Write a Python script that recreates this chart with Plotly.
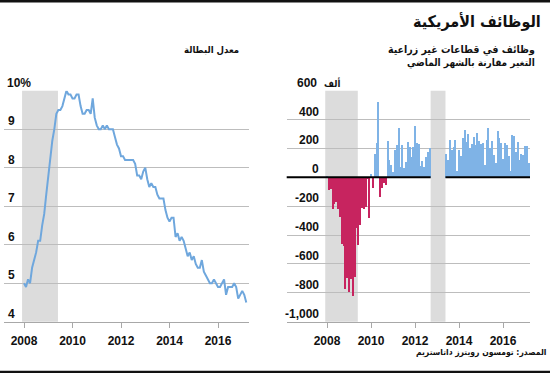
import plotly.graph_objects as go

# ---------------- data ----------------
start_year = 2008
# US unemployment rate, monthly Jan 2008 - Mar 2017 (%)
unemployment = [
    5.0, 4.9, 5.1, 5.0, 5.4, 5.6, 5.8, 6.1, 6.1, 6.5, 6.8, 7.3,
    7.8, 8.3, 8.7, 9.0, 9.4, 9.5, 9.5, 9.6, 9.8, 10.0, 9.9, 9.9,
    9.8, 9.8, 9.9, 9.9, 9.6, 9.4, 9.4, 9.5, 9.5, 9.4, 9.8, 9.3,
    9.1, 9.0, 9.0, 9.1, 9.0, 9.1, 9.0, 9.0, 9.0, 8.8, 8.6, 8.5,
    8.3, 8.3, 8.2, 8.2, 8.2, 8.2, 8.2, 8.1, 7.8, 7.8, 7.7, 7.9,
    8.0, 7.7, 7.5, 7.6, 7.5, 7.5, 7.3, 7.2, 7.2, 7.2, 6.9, 6.7,
    6.6, 6.7, 6.7, 6.2, 6.3, 6.1, 6.2, 6.1, 5.9, 5.7, 5.8, 5.6,
    5.7, 5.5, 5.4, 5.4, 5.6, 5.3, 5.2, 5.1, 5.0, 5.0, 5.1, 5.0,
    4.9, 4.9, 5.0, 5.1, 4.7, 4.9, 4.9, 4.9, 5.0, 4.9, 4.6, 4.7,
    4.8, 4.7, 4.5,
]
# Nonfarm payrolls, monthly change (thousands), Jan 2008 - Mar 2017
payrolls = [
    14, -85, -79, -215, -186, -169, -216, -270, -459, -473, -770, -695,
    -791, -703, -823, -686, -351, -470, -329, -212, -219, -200, -7, -279,
    28, -69, 163, 243, 522, -133, -70, -34, -52, 257, 123, 88,
    42, 188, 225, 346, 77, 225, 69, 110, 248, 209, 141, 209,
    358, 237, 233, 78, 115, 76, 143, 177, 203, None, None, None,
    None, None, None, None, None, 162, 122, 261, 190, 212, 258, 47,
    190, 151, 272, 329, 246, 304, 202, 230, 280, 227, 312, 255,
    234, 238, 86, 262, 344, 206, 254, 157, 100, 321, 272, 239,
    126, 237, 225, 153, 43, 297, 291, 176, 249, 124, 164, 155,
    216, 219, 98,
]
year_ticks = [2008, 2010, 2012, 2014, 2016]
left_levels = [4, 5, 6, 7, 8, 9, 10]
right_levels = [-1000, -800, -600, -400, -200, 0, 200, 400, 600]
right_labels = ["-1,000", "-800", "-600", "-400", "-200", "0", "200", "400", "600"]
unit_label = "ألف"
recession = (2007.92, 2009.40)
data_gap = (2012.71, 2013.385)

title = "الوظائف الأمريكية"
left_sub = "معدل البطالة"
right_sub1 = "وظائف في قطاعات غير زراعية"
right_sub2 = "التغير مقارنة بالشهر الماضي"
source = "المصدر: تومسون رويترز داتاستريم"

# ---------------- styling ----------------
W, H = 550, 373
LINE = "#6fa7dd"
BLUE = "#7fb3e6"
PINK = "#c7245f"
SHADE = "#dcdcdc"
GRID = "#bdbdbd"
FONT = "Liberation Sans, Arial, DejaVu Sans, sans-serif"
AFONT = "DejaVu Sans Condensed, DejaVu Sans, sans-serif"

def fx(p):
    return p / W

def fy(p):
    return 1 - p / H

months_u = [start_year + i / 12 for i in range(len(unemployment))]
months_p = [start_year + i / 12 for i in range(len(payrolls))]
bar_colors = [BLUE if (v is not None and v >= 0) else PINK for v in payrolls]

fig = go.Figure()
fig.add_trace(go.Scatter(x=months_u, y=unemployment, mode="lines",
                         line=dict(color=LINE, width=2), xaxis="x", yaxis="y",
                         hoverinfo="skip", showlegend=False))
fig.add_trace(go.Bar(x=months_p, y=payrolls, width=0.066,
                     marker=dict(color=bar_colors, line=dict(width=0)),
                     xaxis="x2", yaxis="y2", hoverinfo="skip", showlegend=False))

X2R = [2006.168, 2017.227]
ydom = [fy(321.7), fy(90.7)]
common_x = dict(tickmode="array", tickvals=year_ticks, ticktext=[str(t) for t in year_ticks],
                ticks="outside", ticklen=5, tickcolor="#a8a8a8", tickwidth=1,
                showline=True, linecolor="#a8a8a8", linewidth=1,
                showgrid=False, zeroline=False, ticklabelstandoff=3,
                tickfont=dict(family=FONT, size=12, color="#111", weight="bold"))
common_y = dict(showgrid=True, gridcolor=GRID, gridwidth=1.3, showticklabels=False,
                zeroline=False, ticks="", showline=False)

fig.update_layout(
    width=W, height=H, margin=dict(l=0, r=0, t=0, b=0),
    paper_bgcolor="white", plot_bgcolor="white", bargap=0,
    xaxis=dict(domain=[fx(4), fx(248.5)], range=[2007.175, 2017.258], anchor="y", **common_x),
    yaxis=dict(domain=ydom, range=[4, 10], tickvals=left_levels[1:], anchor="x", **common_y),
    xaxis2=dict(domain=[fx(286.7), fx(530)], range=X2R, anchor="y2", **common_x),
    yaxis2=dict(domain=ydom, range=[-1000, 600], tickvals=[v for v in right_levels if v not in (-1000, 0)],
                anchor="x2", **common_y),
)

def dom2(v):
    return (v - X2R[0]) / (X2R[1] - X2R[0])

shapes = [
    dict(type="rect", xref="x", yref="y domain", x0=recession[0], x1=recession[1], y0=0, y1=1,
         fillcolor=SHADE, line=dict(width=0), layer="below"),
    dict(type="rect", xref="x2", yref="y2 domain", x0=recession[0], x1=recession[1], y0=0, y1=1,
         fillcolor=SHADE, line=dict(width=0), layer="below"),
    dict(type="rect", xref="x2", yref="y2 domain", x0=data_gap[0], x1=data_gap[1], y0=0, y1=1,
         fillcolor=SHADE, line=dict(width=0), layer="below"),
    dict(type="line", xref="x2 domain", yref="y2", x0=0, x1=dom2(data_gap[0]),
         y0=0, y1=0, line=dict(color="black", width=2), layer="above"),
    dict(type="line", xref="x2 domain", yref="y2", x0=dom2(data_gap[1]), x1=1,
         y0=0, y1=0, line=dict(color="black", width=2), layer="above"),
    # top and bottom rules
    dict(type="rect", xref="paper", yref="paper", x0=0, x1=1, y0=fy(2.5), y1=1,
         fillcolor="#111", line=dict(width=0)),
    dict(type="rect", xref="paper", yref="paper", x0=0, x1=1, y0=0, y1=fy(370.7),
         fillcolor="#111", line=dict(width=0)),
]
fig.update_layout(shapes=shapes)

ann = []
lab_font = dict(family=FONT, size=12, color="#111", weight="bold")
for v in left_levels:
    if v == 10:
        ann.append(dict(x=fx(5), xref="paper", xanchor="left", y=v, yref="y", yanchor="middle",
                        yshift=8, text="10%", showarrow=False, font=lab_font))
    else:
        ann.append(dict(x=fx(17.5), xref="paper", xanchor="right", y=v, yref="y", yanchor="middle",
                        yshift=8, text=str(v), showarrow=False, font=lab_font))
for v, t in zip(right_levels, right_labels):
    if v == 600:
        ann.append(dict(x=fx(319), xref="paper", xanchor="right", y=v, yref="y2", yanchor="middle",
                        yshift=8, text=t, showarrow=False, font=lab_font))
    else:
        ann.append(dict(x=fx(320.5), xref="paper", xanchor="right", y=v, yref="y2", yanchor="middle",
                        yshift=8, text=t, showarrow=False, font=lab_font))
ann.append(dict(x=fx(342), xref="paper", xanchor="right", align="right", y=600, yref="y2", yanchor="middle",
                yshift=8, text=unit_label, showarrow=False,
                font=dict(family=AFONT, size=9.5, color="#111", weight="bold")))

def rtext(x, y, text, size):
    return dict(x=fx(x), y=fy(y), xref="paper", yref="paper", xanchor="right", align="right",
                yanchor="middle", text=text, showarrow=False,
                font=dict(family=AFONT, size=size, color="#111", weight="bold"))

ann += [
    rtext(543, 21, title, 16),
    rtext(537, 50, right_sub1, 10.5),
    rtext(537, 63, right_sub2, 10),
    rtext(241, 50, left_sub, 9.5),
    rtext(548, 352, source, 8.5),
]
fig.update_layout(annotations=ann)

fig.write_html("out.html", config={"displayModeBar": False},
               post_script="document.body.style.margin='0px';document.body.style.padding='0px';")
